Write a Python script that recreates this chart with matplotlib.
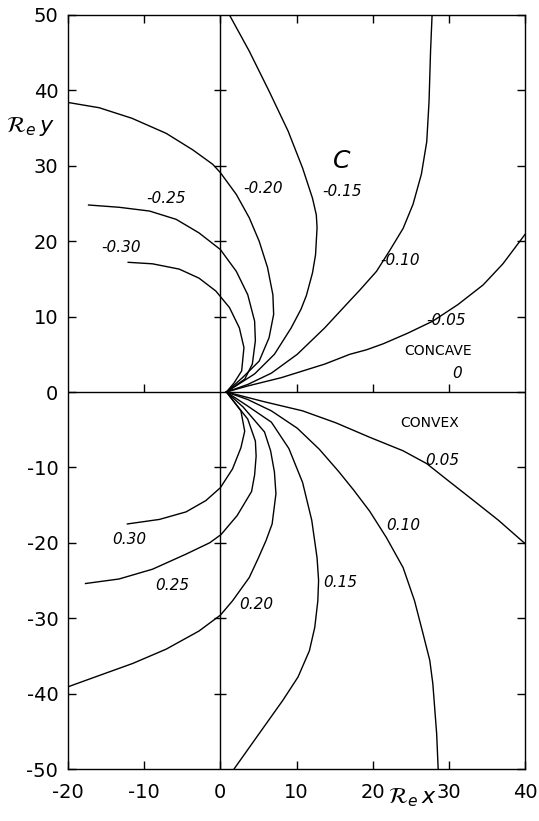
import matplotlib
matplotlib.use("Agg")
import matplotlib.pyplot as plt

plt.rcParams['axes.unicode_minus'] = False
plt.rcParams['font.family'] = ['DejaVu Sans']

# curves, upper half (C < 0, concave)
c_upper = {
    '-0.05': ([0.8, 3.6, 8.0, 13.7, 17.0, 19.2, 21.4, 24.6, 27.9, 31.2, 34.5, 37.1, 40.0],
              [0.0, 0.8, 1.9, 3.7, 5.0, 5.6, 6.4, 7.8, 9.4, 11.6, 14.2, 17.0, 20.9]),
    '-0.10': ([0.8, 3.6, 6.7, 10.1, 13.7, 17.0, 18.3, 20.5, 22.2, 24.0, 25.3, 26.4, 27.1, 27.4, 27.6, 27.8],
              [0.0, 1.0, 2.5, 5.0, 8.5, 12.1, 13.5, 16.0, 18.7, 21.7, 24.9, 28.9, 33.2, 38.5, 45.2, 50.0]),
    '-0.15': ([0.8, 4.5, 7.1, 9.3, 10.6, 11.3, 12.1, 12.5, 12.7, 12.6, 12.1, 10.8, 8.9, 6.4, 3.8, 1.2],
              [0.0, 2.4, 5.0, 8.5, 11.0, 12.8, 15.8, 18.2, 21.8, 23.5, 25.7, 29.7, 34.6, 39.9, 45.2, 50.0]),
    '-0.20': ([0.8, 2.9, 5.1, 6.4, 7.0, 6.9, 6.2, 5.1, 3.8, 2.1, 0.0, -1.0, -3.6, -7.1, -11.6, -15.9, -20.0],
              [0.0, 1.9, 4.1, 7.2, 10.3, 12.9, 16.5, 20.0, 23.1, 26.2, 29.1, 30.2, 32.1, 34.3, 36.3, 37.7, 38.4]),
    '-0.25': ([0.8, 3.2, 4.2, 4.6, 4.5, 3.6, 2.1, 0.0, -2.8, -5.8, -9.3, -13.3, -17.3],
              [0.0, 1.7, 3.7, 6.8, 9.4, 12.9, 16.0, 18.9, 21.1, 22.9, 24.0, 24.5, 24.8]),
    '-0.30': ([0.8, 1.8, 2.8, 3.1, 2.5, 1.2, -0.6, -2.8, -5.4, -8.9, -12.1],
              [0.0, 1.2, 2.8, 5.9, 8.5, 11.2, 13.4, 15.1, 16.3, 17.0, 17.2]),
}

# lower half (C > 0, convex)
c_lower = {
    '0.05': ([0.8, 5.8, 10.8, 15.2, 19.6, 24.0, 27.1, 30.1, 33.0, 36.5, 40.0],
             [0.0, -1.3, -2.5, -4.1, -6.0, -7.8, -9.5, -11.9, -14.2, -17.0, -20.1]),
    '0.10': ([0.8, 3.6, 6.7, 10.1, 13.0, 15.5, 17.5, 19.6, 21.8, 24.0, 25.5, 26.6, 27.5, 27.9, 28.4, 28.6],
             [0.0, -1.0, -2.5, -4.8, -7.6, -10.5, -13.0, -15.8, -19.3, -23.3, -27.7, -32.0, -35.6, -38.7, -45.3, -50.0]),
    '0.15': ([0.8, 3.5, 6.7, 9.0, 10.8, 12.0, 12.7, 12.9, 12.8, 12.4, 11.7, 10.2, 8.2, 5.1, 1.8],
             [0.0, -1.8, -4.0, -7.5, -12.0, -17.0, -22.0, -25.0, -27.7, -31.2, -34.3, -37.8, -40.9, -45.3, -50.0]),
    '0.20': ([0.8, 3.0, 5.8, 6.6, 7.1, 7.3, 6.8, 6.0, 5.0, 3.8, 1.6, 0.0, -2.8, -7.1, -11.5, -15.9, -20.0],
             [0.0, -2.0, -5.3, -7.8, -10.6, -13.5, -17.5, -19.7, -22.0, -24.6, -27.7, -29.6, -31.7, -34.1, -36.0, -37.6, -39.1]),
    '0.25': ([0.8, 3.6, 4.6, 4.7, 4.5, 4.1, 2.2, 0.1, -1.4, -4.5, -8.9, -13.3, -17.7],
             [0.0, -3.6, -6.5, -8.5, -11.0, -13.2, -16.4, -18.9, -20.0, -21.5, -23.5, -24.8, -25.4]),
    '0.30': ([0.8, 2.7, 3.2, 2.7, 1.6, 0.0, -1.9, -4.5, -8.0, -12.2],
             [0.0, -2.5, -5.2, -7.4, -10.2, -12.7, -14.4, -15.9, -16.9, -17.5]),
}

# label positions for each curve
label_pos = {
    '-0.05': (29.7, 9.5), '-0.10': (23.6, 17.4), '-0.15': (16.0, 26.6),
    '-0.20': (5.6, 27.0), '-0.25': (-7.1, 25.7), '-0.30': (-13.0, 19.1),
    '0.05': (29.2, -9.1), '0.10': (24.0, -17.7), '0.15': (15.7, -25.3),
    '0.20': (4.7, -28.2), '0.25': (-6.3, -25.6), '0.30': (-12.0, -19.5),
}

x_ticks = [-20, -10, 0, 10, 20, 30, 40]
y_ticks = [-50, -40, -30, -20, -10, 0, 10, 20, 30, 40, 50]
inner_x_ticks = [-10, 10, 20, 30]
inner_y_ticks = [-40, -30, -20, -10, 10, 20, 30, 40]

fig = plt.figure(figsize=(5.39, 8.21), dpi=100)
ax = fig.add_axes([68/539, 1 - 769/821, (525 - 68)/539, (769 - 15)/821])

for k in c_upper:
    ax.plot(c_upper[k][0], c_upper[k][1], color='black', lw=1.0, solid_joinstyle='round')
for k in c_lower:
    ax.plot(c_lower[k][0], c_lower[k][1], color='black', lw=1.0, solid_joinstyle='round')

# C = 0 line and the inner axes
ax.axhline(0, color='black', lw=1.0)
ax.axvline(0, color='black', lw=1.0)
ax.plot([0]*len(inner_y_ticks), inner_y_ticks, ls='none', marker='_', ms=8, mew=1.0, color='black')
ax.plot(inner_x_ticks, [0]*len(inner_x_ticks), ls='none', marker=2, ms=6, mew=1.0, color='black')

for k, (lx, ly) in label_pos.items():
    ax.text(lx, ly, k, fontsize=11, style='italic', ha='center', va='center')

ax.text(15.9, 30.7, 'C', fontsize=18, style='italic', ha='center', va='center')
ax.text(28.6, 5.4, 'CONCAVE', fontsize=10, ha='center', va='center')
ax.text(31.1, 2.4, '0', fontsize=11, style='italic', ha='center', va='center')
ax.text(27.5, -4.1, 'CONVEX', fontsize=10, ha='center', va='center')

ax.set_xlim(-20, 40)
ax.set_ylim(-50, 50)
ax.set_xticks(x_ticks)
ax.set_yticks(y_ticks)
ax.set_xticklabels([str(v) for v in x_ticks])
ax.set_yticklabels([str(v) for v in y_ticks])
ax.tick_params(direction='in', top=True, right=True, length=6, width=1.0, labelsize=14)
ax.tick_params(axis='x', pad=10)
ax.tick_params(axis='y', pad=7)
for s in ax.spines.values():
    s.set_linewidth(1.0)

fig.text(30/539, 1 - 127/821, r'$\mathcal{R}_e\,y$', fontsize=16, ha='center', va='center')
fig.text(412/539, 1 - 798/821, r'$\mathcal{R}_e\,x$', fontsize=16, ha='center', va='center')

fig.savefig('out.png', dpi=100)
